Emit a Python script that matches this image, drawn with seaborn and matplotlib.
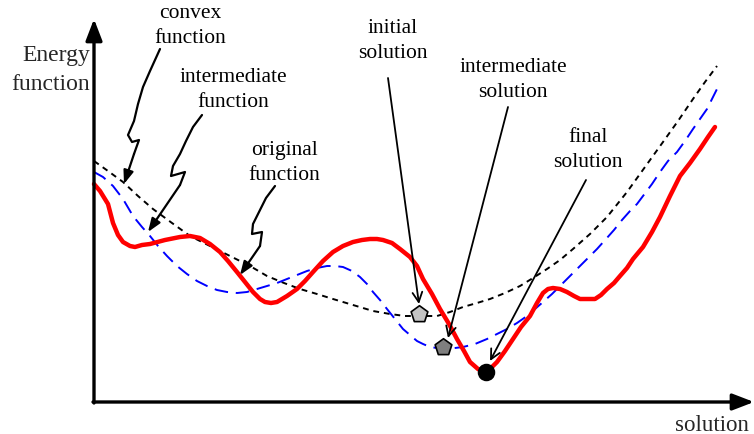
import numpy as np
import pandas as pd
import seaborn as sns
import matplotlib.pyplot as plt

# Curves, in pixel units (x right, y down)
orig_x = [94, 100, 108, 113, 118, 123, 130, 135, 142, 150, 165, 180, 190, 200, 210, 220, 228, 237, 245,
          253, 260, 265, 271, 277, 287, 297, 305, 313, 323, 333, 343, 353, 362, 370, 377, 383, 392, 400,
          410, 417, 423, 432, 440, 449, 457, 464, 470, 478, 485, 491, 497, 505, 513, 521, 530, 537, 543,
          548, 553, 560, 567, 574, 580, 588, 595, 601, 607, 614, 620, 627, 633, 643, 652, 660, 670, 680,
          690, 700, 708, 715]
orig_y = [185, 192, 205, 224, 236, 243, 247, 248, 246, 245, 241, 238, 237, 239, 245, 253, 262, 273, 283,
          293, 300, 303, 304, 303, 297, 290, 282, 273, 262, 253, 247, 243, 241, 240, 240, 241, 244, 250,
          258, 267, 280, 295, 310, 325, 340, 352, 363, 370, 373, 369, 363, 352, 340, 328, 317, 304, 294,
          290, 289, 290, 293, 297, 300, 300, 300, 296, 290, 284, 277, 269, 260, 248, 233, 218, 197, 177,
          164, 150, 138, 128]

inter_x = [94, 103, 113, 123, 133, 142, 150, 158, 167, 177, 187, 197, 207, 217, 227, 237, 247, 257, 267,
           277, 287, 297, 307, 317, 327, 335, 343, 352, 360, 367, 373, 380, 387, 395, 403, 410, 417, 423,
           430, 437, 447, 455, 463, 475, 487, 497, 507, 517, 527, 535, 543, 552, 560, 570, 580, 589, 597,
           606, 614, 622, 630, 637, 643, 652, 660, 668, 677, 685, 693, 700, 707, 712, 717]
inter_y = [173, 178, 187, 200, 217, 228, 237, 247, 257, 267, 275, 282, 287, 291, 293, 294, 293, 290, 287,
           284, 280, 276, 272, 269, 267, 267, 268, 272, 278, 285, 293, 301, 310, 320, 330, 336, 342, 345,
           348, 349, 350, 349, 348, 345, 340, 335, 330, 324, 317, 310, 303, 295, 287, 277, 267, 258, 250,
           240, 231, 221, 212, 205, 197, 185, 173, 162, 153, 142, 130, 120, 110, 100, 90]

conv_x = [94, 108, 123, 138, 153, 172, 190, 210, 230, 250, 267, 284, 300, 317, 333, 353, 373, 390, 405,
          420, 437, 450, 463, 477, 490, 505, 520, 533, 547, 560, 573, 590, 607, 627, 645, 663, 678, 693,
          705, 717]
conv_y = [162, 172, 183, 197, 210, 224, 237, 247, 257, 267, 277, 284, 290, 295, 300, 306, 312, 315, 317,
          317, 317, 313, 308, 304, 300, 294, 287, 279, 270, 261, 250, 235, 218, 193, 168, 143, 122, 100,
          83, 67]

sol_names = ['initial', 'intermediate', 'final']
sol_x = [419, 443, 486]
sol_y = [315, 348, 373]
sol_colors = ['#c4c4c4', '#7f7f7f', '#000000']
sol_markers = ['p', 'p', 'o']

# labels: text, centre x, centre y
labels = [('convex\nfunction', 190, 26),
          ('intermediate\nfunction', 233, 90),
          ('original\nfunction', 284, 163),
          ('initial\nsolution', 393, 41),
          ('intermediate\nsolution', 513, 80),
          ('final\nsolution', 588, 150)]

# straight pointers for the solutions
sol_ptr_start = [(388, 79), (508, 108), (586, 181)]
sol_ptr_end = [(419, 305), (448, 339), (490, 362)]

# zigzag pointers for the functions
zig_conv = [(160, 50), (150, 72), (143, 88), (138, 105), (134, 122), (128, 136), (132, 143), (139, 141),
            (134, 155), (124, 185)]
zig_inter = [(202, 116), (193, 128), (186, 142), (180, 155), (173, 167), (171, 177), (185, 173),
             (180, 186), (148, 233)]
zig_orig = [(275, 187), (266, 199), (259, 213), (253, 225), (252, 235), (262, 233), (260, 247),
            (240, 276)]

sns.set_style('white')
plt.rcParams['font.family'] = ['Liberation Serif', 'DejaVu Serif']

fig = plt.figure(figsize=(7.54, 4.35), dpi=100)
ax = fig.add_axes([0, 0, 1, 1])

# axes with arrow heads
ax.annotate('', xy=(94, 20), xytext=(94, 404),
            arrowprops=dict(arrowstyle='-|>,head_length=1.3,head_width=0.5', color='black', lw=2.4,
                            shrinkA=0, shrinkB=0))
ax.annotate('', xy=(754, 403), xytext=(93, 403),
            arrowprops=dict(arrowstyle='-|>,head_length=1.3,head_width=0.5', color='black', lw=2.4,
                            shrinkA=0, shrinkB=0))

df_c = pd.DataFrame({'x': conv_x, 'y': conv_y})
df_i = pd.DataFrame({'x': inter_x, 'y': inter_y})
df_o = pd.DataFrame({'x': orig_x, 'y': orig_y})
sns.lineplot(data=df_c, x='x', y='y', sort=False, ax=ax, color='black', lw=1.4,
             linestyle=(0, (3, 2.5)))
sns.lineplot(data=df_i, x='x', y='y', sort=False, ax=ax, color='#0000ff', lw=1.4,
             linestyle=(0, (7, 4)))
sns.lineplot(data=df_o, x='x', y='y', sort=False, ax=ax, color='#ff0000', lw=3.2)

# solution markers
for name, x, y, c, m in zip(sol_names, sol_x, sol_y, sol_colors, sol_markers):
    sns.scatterplot(x=[x], y=[y], ax=ax, color=c, marker=m, s=160 if m == 'p' else 130,
                    edgecolor='black', linewidth=1.2, zorder=5)

# solution pointers
for (x0, y0), (x1, y1) in zip(sol_ptr_start, sol_ptr_end):
    ax.annotate('', xy=(x1, y1), xytext=(x0, y0),
                arrowprops=dict(arrowstyle='->,head_length=0.7,head_width=0.35', color='black',
                                lw=1.3, shrinkA=0, shrinkB=0))

# zigzag pointers
for zz in [zig_conv, zig_inter, zig_orig]:
    xs = [p[0] for p in zz[:-1]]
    ys = [p[1] for p in zz[:-1]]
    ax.plot(xs, ys, color='black', lw=1.6, solid_joinstyle='round')
    ax.annotate('', xy=zz[-1], xytext=zz[-2],
                arrowprops=dict(arrowstyle='-|>,head_length=0.8,head_width=0.3', color='black',
                                lw=1.6, shrinkA=0, shrinkB=0))

for txt, x, y in labels:
    ax.text(x, y, txt, ha='center', va='center', fontsize=15.5, linespacing=1.38, color='black')

ax.text(90, 70, 'Energy\nfunction', ha='right', va='center', fontsize=17, linespacing=1.5)
ax.text(749, 436, 'solution', ha='right', va='bottom', fontsize=16.5)

ax.set_xlim(0, 754)
ax.set_ylim(435, 0)
ax.axis('off')

fig.savefig('out.png', dpi=100)
